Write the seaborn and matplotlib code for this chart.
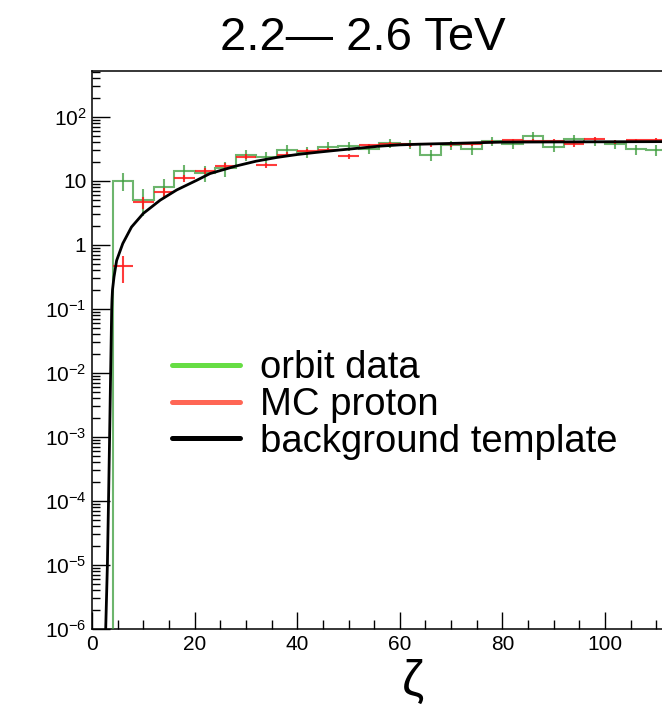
import numpy as np
import matplotlib
matplotlib.use("Agg")
import matplotlib.pyplot as plt
from matplotlib.lines import Line2D
from matplotlib.ticker import FixedLocator, FixedFormatter, LogLocator, MultipleLocator, NullFormatter
import seaborn as sns

# ---------------- data ----------------
bin_edges = [0, 4, 8, 12, 16, 20, 24, 28, 32, 36, 40, 44, 48, 52, 56, 60, 64, 68, 72,
             76, 80, 84, 88, 92, 96, 100, 104, 108, 112]
orbit_data = [0, 10, 5.1, 8.0, 14.2, 13.3, 15.6, 25.2, 23.7, 30.2, 28.4, 34, 34.8, 32,
              38.4, 37, 25.2, 36.1, 31.3, 41.3, 37.4, 50.5, 34.4, 45.4, 41, 37, 31.3, 30.2]
orbit_err = [0, 3.16, 2.26, 2.83, 3.77, 3.65, 3.95, 5.02, 4.87, 5.5, 5.33, 5.83, 5.9, 5.66,
             6.2, 6.08, 5.02, 6.01, 5.59, 6.43, 6.12, 7.1, 5.87, 6.74, 6.4, 6.08, 5.59, 5.5]
mc_proton = [0, 0.46, 4.6, 6.7, 10.9, 14.2, 17, 24, 17.4, 25.8, 29.4, 30.5, 24.3, 35.7,
             38, 37, 37, 37, 38, 41, 42.7, 41.8, 41.8, 37, 44.8, 40, 42.7, 44]
mc_err = [0, 0.21, 0.9, 1.1, 1.4, 1.6, 1.8, 2.2, 1.8, 2.2, 2.4, 2.4, 2.2, 2.6, 2.7, 2.7,
          2.7, 2.7, 2.7, 2.8, 2.9, 2.8, 2.8, 2.7, 2.9, 2.8, 2.9, 2.9]
template_zeta = [2.67, 3.0, 3.22, 3.43, 3.63, 3.84, 3.9, 4.0, 4.29, 4.8, 6.0, 7.7, 10, 13.3,
                 16.5, 20.4, 23, 28, 32, 36, 40, 44, 48, 52, 56, 60, 64, 72, 80, 96, 112, 120]
template_val = [1e-6, 1e-5, 1e-4, 1e-3, 1e-2, 1e-1, 0.14, 0.2, 0.316, 0.57, 1.05, 1.9, 3.1,
                5.0, 7.2, 10.2, 13, 17, 20.3, 23.2, 25.8, 28, 30.2, 32.4, 34.8, 36.5, 37.4,
                38.8, 40.3, 40.7, 41, 41]
ytick_vals = [1e-6, 1e-5, 1e-4, 1e-3, 1e-2, 1e-1, 1, 10, 100]
ytick_labels = [r"$10^{-6}$", r"$10^{-5}$", r"$10^{-4}$", r"$10^{-3}$", r"$10^{-2}$",
                r"$10^{-1}$", "1", "10", r"$10^{2}$"]
xtick_vals = [0, 20, 40, 60, 80, 100]
legend_labels = ["orbit data", "MC proton", "background template"]
title_text = "2.2\u2014 2.6 TeV"
xlabel_text = "\u03b6"

# ---------------- style ----------------
sns.set_style("ticks")
plt.rcParams["font.family"] = ["Liberation Sans", "DejaVu Sans"]
plt.rcParams["mathtext.fontset"] = "custom"
plt.rcParams["mathtext.rm"] = "Liberation Sans"
plt.rcParams["mathtext.it"] = "Liberation Sans:italic"
plt.rcParams["mathtext.bf"] = "Liberation Sans:bold"
plt.rcParams["text.color"] = "black"
plt.rcParams["xtick.color"] = "black"
plt.rcParams["ytick.color"] = "black"
plt.rcParams["xtick.labelcolor"] = "black"
plt.rcParams["ytick.labelcolor"] = "black"
plt.rcParams["legend.labelcolor"] = "black"

W, H = 662, 705
fig = plt.figure(figsize=(W / 100, H / 100), dpi=100)
x0, y_top, y_bot = 92, 71, 629
x_right = 92 + 120 * 5.13
ax = fig.add_axes([x0 / W, (H - y_bot) / H, (x_right - x0) / W, (y_bot - y_top) / H])

edges = np.array(bin_edges, dtype=float)
centers = 0.5 * (edges[:-1] + edges[1:])
g = np.array(orbit_data, dtype=float)
ge = np.array(orbit_err, dtype=float)
r = np.array(mc_proton, dtype=float)
re = np.array(mc_err, dtype=float)

green_hist = "#3c9c3c"
red_hist = "#ff1a1a"

ax.set_yscale("log")
ax.set_xlim(0, 120)
ax.set_ylim(1e-6, 520)

# orbit data histogram
ax.stairs(np.where(g > 0, g, 1e-9), edges, baseline=None, color=green_hist,
          alpha=0.75, lw=1.5, zorder=3)
m = g > 0
ax.errorbar(centers[m], g[m], yerr=ge[m], fmt="none", ecolor=green_hist, alpha=0.75,
            elinewidth=1.5, capsize=0, zorder=3)

# MC proton crosses
m = r > 0
ax.errorbar(centers[m], r[m], yerr=re[m], xerr=2.0, fmt="none", ecolor=red_hist,
            alpha=0.85, elinewidth=1.5, capsize=0, zorder=4)

# background template
sns.lineplot(x=template_zeta, y=template_val, ax=ax, color="black", lw=2.0,
             estimator=None, sort=False, zorder=5)

# axes cosmetics
for s in ax.spines.values():
    s.set_linewidth(1.1)
    s.set_color("black")
ax.spines["right"].set_visible(False)
ax.yaxis.set_major_locator(FixedLocator(ytick_vals))
ax.yaxis.set_major_formatter(FixedFormatter(ytick_labels))
ax.yaxis.set_minor_locator(LogLocator(base=10, subs=np.arange(2, 10), numticks=30))
ax.yaxis.set_minor_formatter(NullFormatter())
ax.xaxis.set_major_locator(FixedLocator(xtick_vals))
ax.xaxis.set_minor_locator(MultipleLocator(5))
ax.tick_params(which="both", direction="in", top=False, right=False, color="black",
               labelcolor="black")
ax.tick_params(axis="y", which="major", length=13, width=1.0, labelsize=15, pad=4)
ax.tick_params(axis="y", which="minor", length=6, width=1.0)
ax.tick_params(axis="x", which="major", length=12, width=1.0, labelsize=15, pad=4)
ax.tick_params(axis="x", which="minor", length=6.5, width=1.0)
ax.set_xlabel("")
ax.set_ylabel("")

# legend
handles = [Line2D([], [], color="#66dd44", lw=3.6),
           Line2D([], [], color="#ff6655", lw=3.6),
           Line2D([], [], color="black", lw=3.6)]
ax.legend(handles, legend_labels, loc="center left",
          bbox_to_anchor=(172 / W, 1 - 405 / H), bbox_transform=fig.transFigure,
          frameon=False, fontsize=27.5, handlelength=1.78, handletextpad=0.52,
          labelspacing=0.02, borderpad=0, borderaxespad=0, labelcolor="black")

fig.text(363 / W, 1 - 50 / H, title_text, ha="center", va="baseline", fontsize=34,
         color="black")
fig.text(413 / W, 1 - 695 / H, xlabel_text, ha="center", va="baseline", fontsize=36,
         color="black")

fig.savefig("out.png", dpi=100)
